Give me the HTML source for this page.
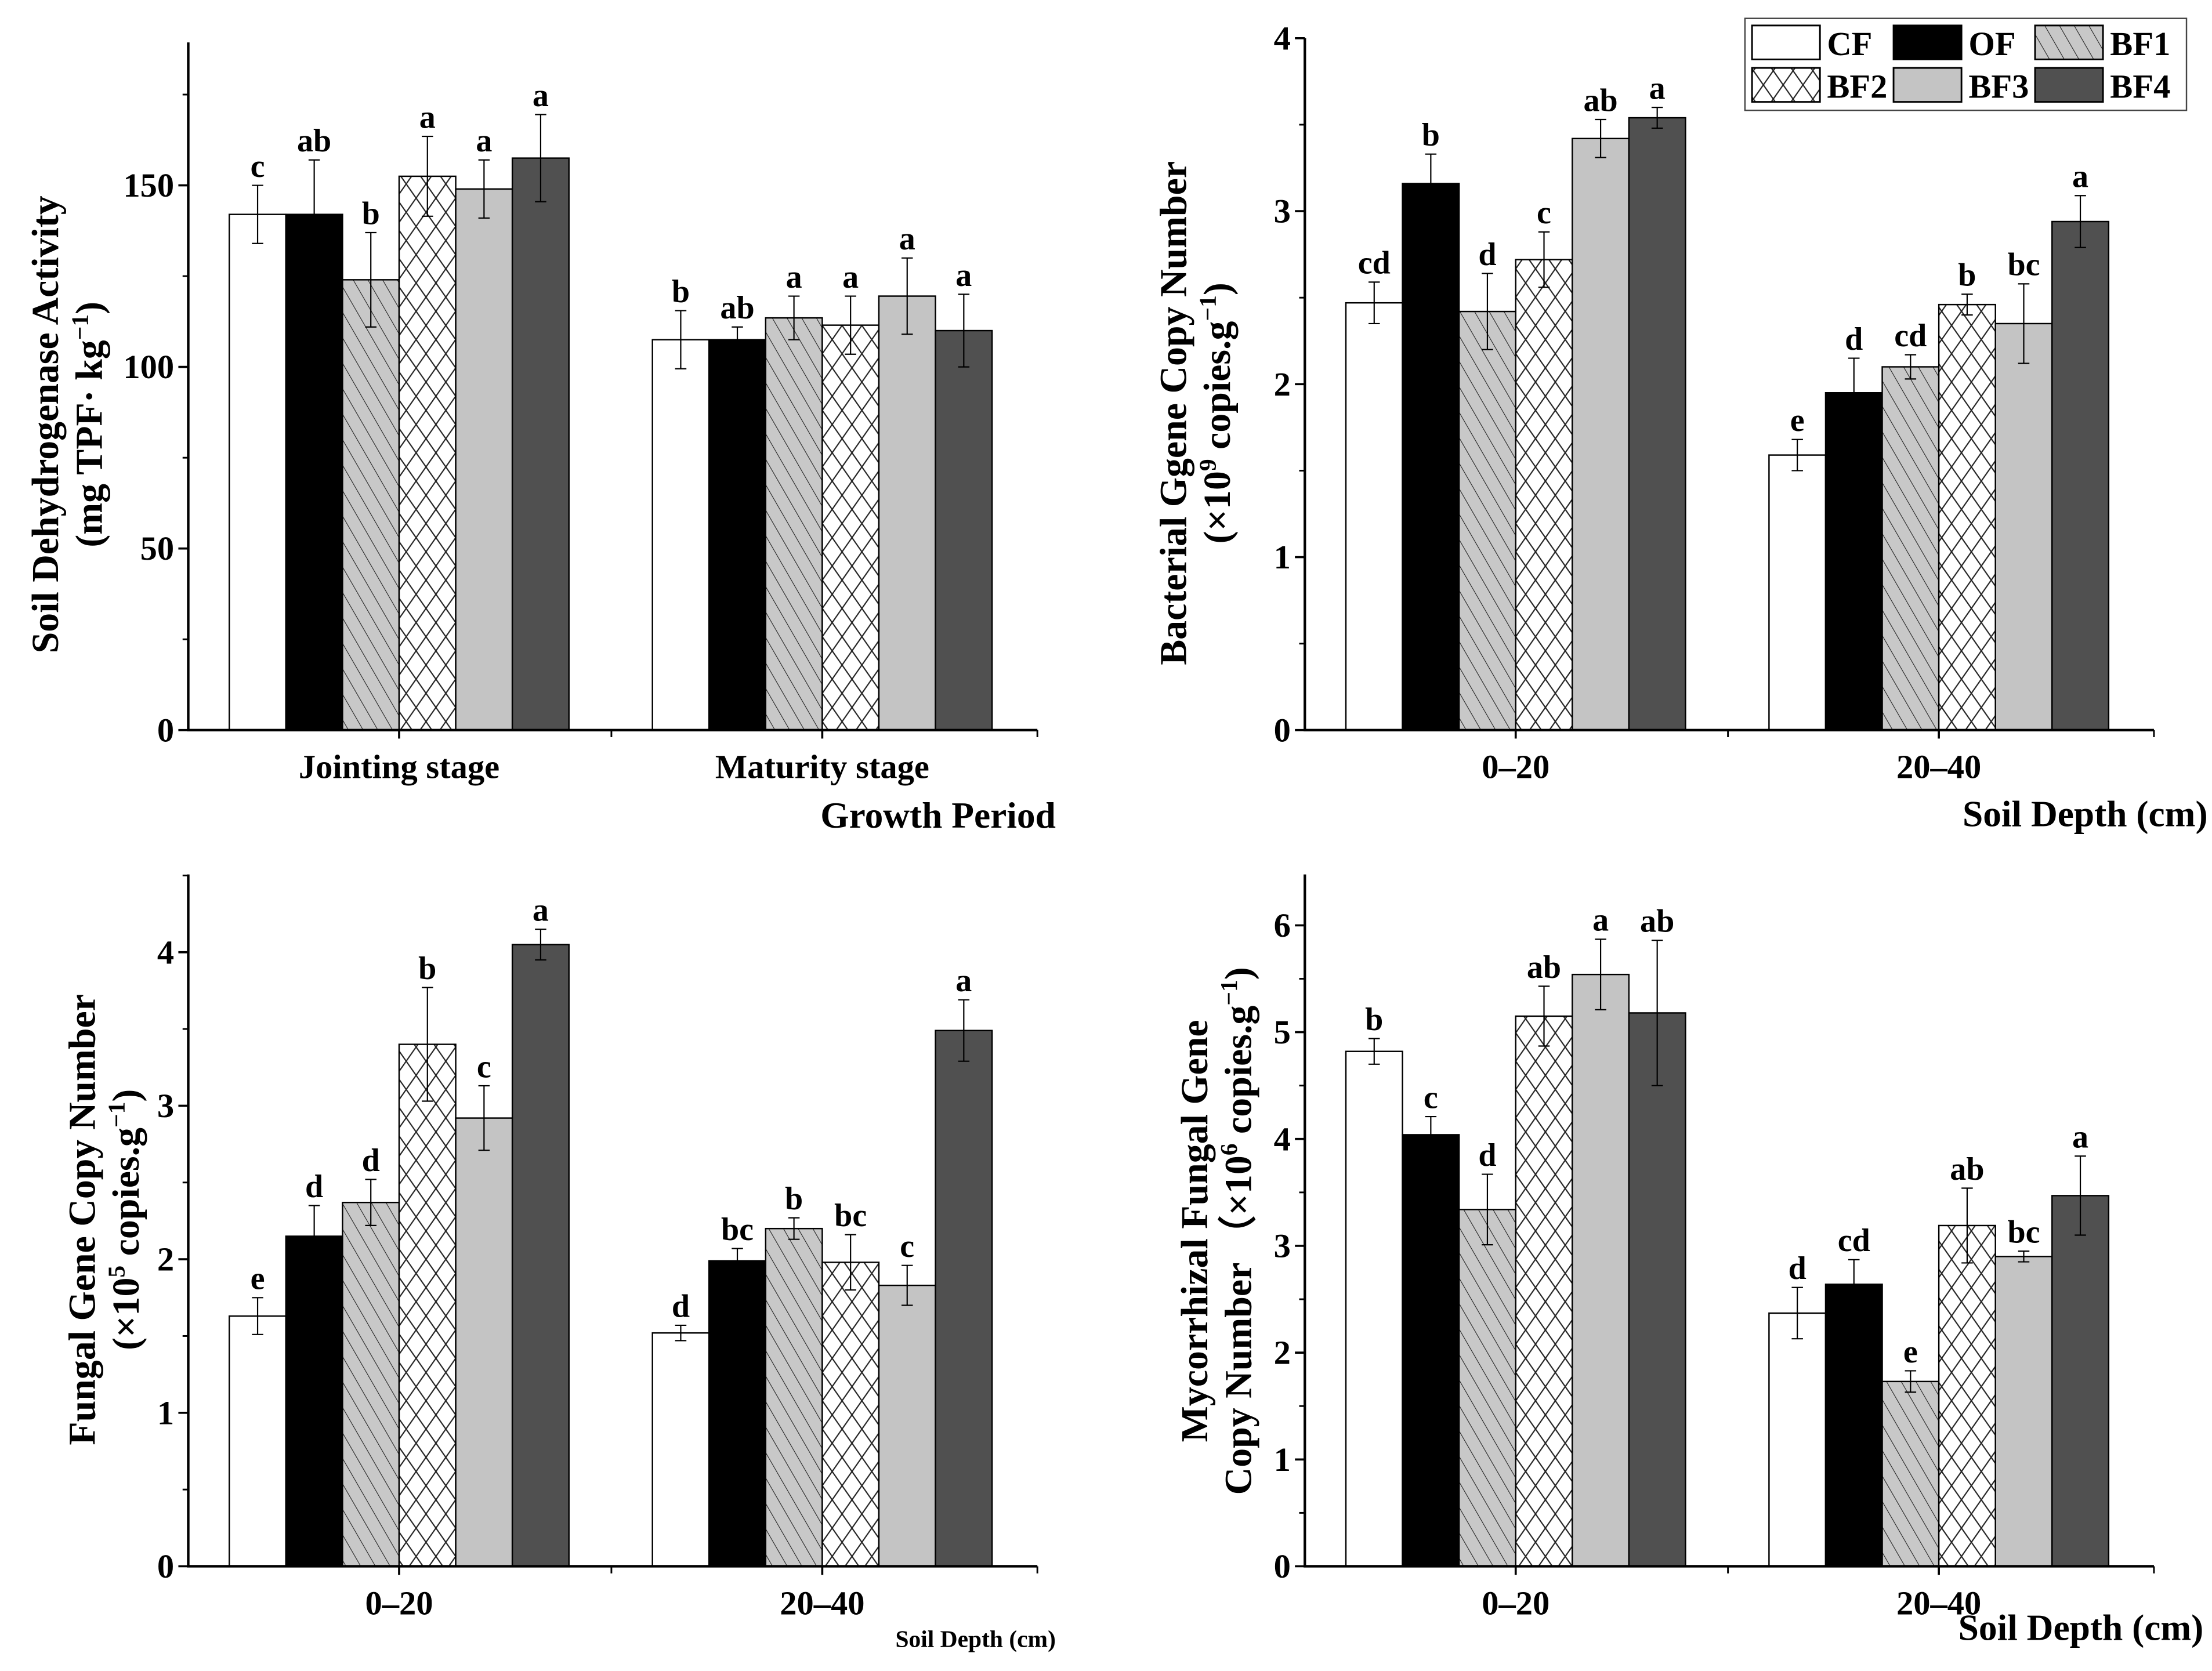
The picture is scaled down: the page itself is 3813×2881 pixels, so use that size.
<!DOCTYPE html>
<html><head><meta charset="utf-8"><style>
html,body{margin:0;padding:0;background:#fff}
svg{display:block}
text{font-family:"Liberation Serif",serif;font-weight:bold;fill:#000}
</style></head><body>
<svg id="fig" width="3813" height="2881" viewBox="0 0 1563 1181" xmlns="http://www.w3.org/2000/svg">
<defs>
<pattern id="pBF1" patternUnits="userSpaceOnUse" width="9" height="9" patternTransform="rotate(-30)">
<rect width="9" height="9" fill="#c8c8c8"/><line x1="0" y1="0" x2="0" y2="9" stroke="#222" stroke-width="0.9"/></pattern>
<pattern id="pBF2" patternUnits="userSpaceOnUse" width="14" height="20">
<rect width="14" height="20" fill="#fff"/><path d="M0 0L14 20M14 0L0 20" stroke="#222" stroke-width="0.9"/></pattern>
</defs>
</svg>
<script>
const series = ["CF","OF","BF1","BF2","BF3","BF4"];
const fills = ["#fff","#000","url(#pBF1)","url(#pBF2)","#c4c4c4","#505050"];

const p1Cats = ["Jointing stage","Maturity stage"];
const p1Vals = [[142,142,124,152.5,149,157.5],[107.5,107.5,113.5,111.5,119.5,110]];
const p1Errs = [[8,15,13,11,8,12],[8,3.5,6,8,10.5,10]];
const p1Lets = [["c","ab","b","a","a","a"],["b","ab","a","a","a","a"]];
const p1Ticks = [0,50,100,150];

const p2Cats = ["0–20","20–40"];
const p2Vals = [[2.47,3.16,2.42,2.72,3.42,3.54],[1.59,1.95,2.10,2.46,2.35,2.94]];
const p2Errs = [[0.12,0.17,0.22,0.16,0.11,0.06],[0.09,0.2,0.07,0.06,0.23,0.15]];
const p2Lets = [["cd","b","d","c","ab","a"],["e","d","cd","b","bc","a"]];
const p2Ticks = [0,1,2,3,4];

const p3Cats = ["0–20","20–40"];
const p3Vals = [[1.63,2.15,2.37,3.40,2.92,4.05],[1.52,1.99,2.20,1.98,1.83,3.49]];
const p3Errs = [[0.12,0.2,0.15,0.37,0.21,0.1],[0.05,0.08,0.07,0.18,0.13,0.2]];
const p3Lets = [["e","d","d","b","c","a"],["d","bc","b","bc","c","a"]];
const p3Ticks = [0,1,2,3,4];

const p4Cats = ["0–20","20–40"];
const p4Vals = [[4.82,4.04,3.34,5.15,5.54,5.18],[2.37,2.64,1.73,3.19,2.90,3.47]];
const p4Errs = [[0.12,0.17,0.33,0.28,0.33,0.68],[0.24,0.23,0.1,0.35,0.05,0.37]];
const p4Lets = [["b","c","d","ab","a","ab"],["d","cd","e","ab","bc","a"]];
const p4Ticks = [0,1,2,3,4,5,6];

const svg = document.getElementById('fig');
const NS = "http://www.w3.org/2000/svg";
function mk(tag, attrs, parent, txt){
  const e = document.createElementNS(NS, tag);
  for (const k in attrs) e.setAttribute(k, attrs[k]);
  if (txt !== undefined) e.textContent = txt;
  (parent||svg).appendChild(e); return e;
}

function panel(o){
  const g = mk('g', {});
  
  
  const y = v => o.y0 - (v - 0) * (o.y0 - o.yTop) / o.vTop;
  const right = o.x0 + 600;
  o.cats.forEach((c, ci) => {
    const gx = o.x0 + 29 + ci * 299;
    o.vals[ci].forEach((v, si) => {
      const bx = gx + si * 40;
      const r = mk('rect', {x:bx, y:y(v), width:40, height:o.y0 - y(v), fill:fills[si], stroke:'#000', 'stroke-width':1}, g);
      
      
      const e = o.errs[ci][si], cx = bx + 20;
      const eb = mk('path', {d:`M${cx} ${y(v+e)}V${y(v-e)}M${cx-4} ${y(v+e)}H${cx+4}M${cx-4} ${y(v-e)}H${cx+4}`, stroke:'#000', 'stroke-width':0.9, fill:'none'}, g);
      
      
      const t = mk('text', {x:cx, y:y(v+e) - 6, 'text-anchor':'middle', 'font-size':23}, g, o.lets[ci][si]);
      
      
    });
    const cxl = o.x0 + 149 + ci * 299;
    mk('line', {x1:cxl, y1:o.y0, x2:cxl, y2:o.y0+6, stroke:'#000', 'stroke-width':1.5}, g);
    const ct = mk('text', {x:cxl, y:o.y0 + 34, 'text-anchor':'middle', 'font-size':24}, g, c);
    
    
  });
  [o.x0+299, o.x0+600].forEach(xx => mk('line', {x1:xx, y1:o.y0, x2:xx, y2:o.y0+5, stroke:'#000', 'stroke-width':1.2}, g));
  const ax = mk('path', {d:`M${o.x0} ${o.yAxTop}V${o.y0}H${right}`, stroke:'#000', 'stroke-width':1.8, fill:'none'}, g);
  
  
  o.ticks.forEach((tv, i) => {
    mk('line', {x1:o.x0-7, y1:y(tv), x2:o.x0, y2:y(tv), stroke:'#000', 'stroke-width':1.5}, g);
    const tl = mk('text', {x:o.x0-10, y:y(tv)+8, 'text-anchor':'end', 'font-size':24}, g, String(tv));
    
    
    const mv = tv + (o.ticks[1]-o.ticks[0])/2;
    if (y(mv) > o.yAxTop) mk('line', {x1:o.x0-4, y1:y(mv), x2:o.x0, y2:y(mv), stroke:'#000', 'stroke-width':1.2}, g);
  });
  const yt = mk('text', {transform:`translate(${o.ylx},${o.lyc}) rotate(-90)`, 'text-anchor':'middle', 'font-size':27}, g);
  
  
  mk('tspan', {x:0, y:0}, yt, o.yl1);
  const t2 = mk('tspan', {x:0, y:o.ylgap}, yt);
  t2.innerHTML = o.yl2;
  const xt = mk('text', {x:o.xtx, y:o.xty, 'text-anchor':'end', 'font-size':o.xts}, g, o.xtitle);
  
  
}

const sup = (s) => `<tspan dy="-10" font-size="17">${s}</tspan><tspan dy="10">`;
panel({name:'panel-dehydrogenase', x0:133, y0:516, yTop:131, vTop:150, yAxTop:30, cats:p1Cats, vals:p1Vals, errs:p1Errs, lets:p1Lets, ticks:p1Ticks,
  ylx:41, lyc:300, ylgap:31, yl1:'Soil Dehydrogenase Activity', yl2:'(mg TPF· kg'+sup('−1')+')</tspan>',
  xtitle:'Growth Period', xtx:746, xty:585, xts:26});
panel({name:'panel-bacterial', x0:922, y0:516, yTop:27, vTop:4, yAxTop:27, cats:p2Cats, vals:p2Vals, errs:p2Errs, lets:p2Lets, ticks:p2Ticks,
  ylx:838, lyc:292, ylgap:31, yl1:'Bacterial Ggene Copy Number', yl2:'(×10'+sup('9')+' copies.g'+sup('−1')+')</tspan></tspan>',
  xtitle:'Soil Depth (cm)', xtx:1560, xty:584, xts:26});
panel({name:'panel-fungal', x0:133, y0:1107, yTop:673, vTop:4, yAxTop:618, cats:p3Cats, vals:p3Vals, errs:p3Errs, lets:p3Lets, ticks:p3Ticks,
  ylx:67, lyc:862, ylgap:31, yl1:'Fungal Gene Copy Number', yl2:'(×10'+sup('5')+' copies.g'+sup('−1')+')</tspan></tspan>',
  xtitle:'Soil Depth (cm)', xtx:746, xty:1164, xts:17});
panel({name:'panel-mycorrhizal', x0:922, y0:1107, yTop:654, vTop:6, yAxTop:618, cats:p4Cats, vals:p4Vals, errs:p4Errs, lets:p4Lets, ticks:p4Ticks,
  ylx:853, lyc:870, ylgap:31, yl1:'Mycorrhizal Fungal Gene', yl2:'Copy Number （×10'+sup('6')+' copies.g'+sup('−1')+')</tspan></tspan>',
  xtitle:'Soil Depth (cm)', xtx:1557, xty:1159, xts:26});

const lg = mk('g', {});


mk('rect', {x:1233, y:13, width:312, height:65, fill:'#fff', stroke:'#444', 'stroke-width':1}, lg);
series.forEach((s, i) => {
  const col = i % 3, row = Math.floor(i / 3);
  const lx = 1238 + col * 100, ly = 18 + row * 30;
  const e = mk('g', {}, lg);
  
  
  mk('rect', {x:lx, y:ly, width:48, height:24, fill:fills[i], stroke:'#000', 'stroke-width':1.2}, e);
  mk('text', {x:lx + 53, y:ly + 21, 'font-size':24}, e, s);
});
</script>
</body></html>
